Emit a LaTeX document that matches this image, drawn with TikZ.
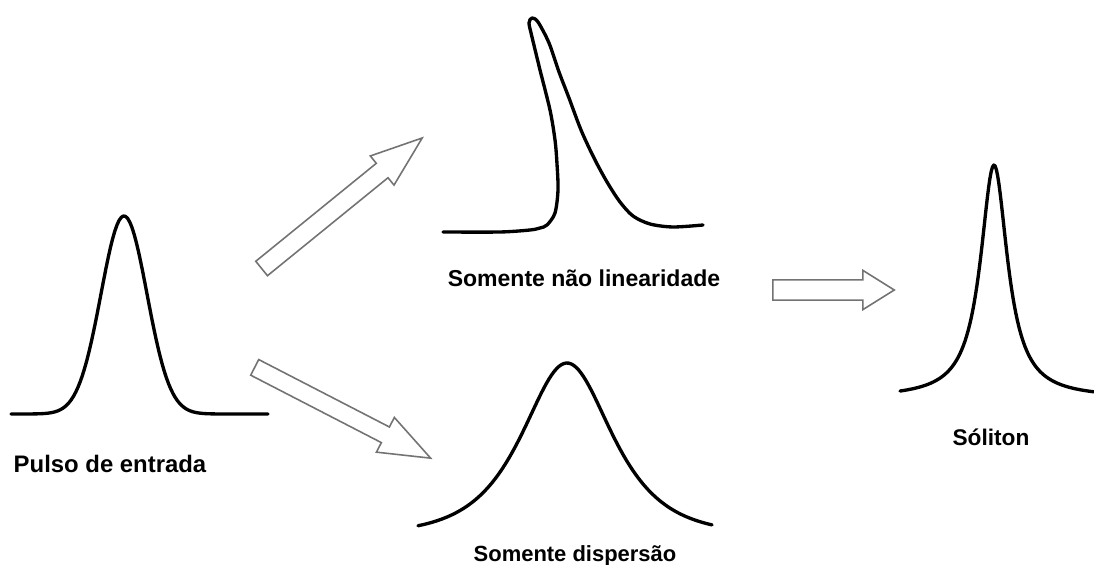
\documentclass[tikz,border=0pt]{standalone}
\usepackage{fontspec}
\setmainfont{Liberation Sans}
\usepackage{tikz}
\usetikzlibrary{shapes.arrows}

\tikzset{
  pulse/.style={line width=1.9pt, line cap=round, line join=round},
  blockarrow/.style={single arrow, draw=black!55, line width=0.9pt, fill=white, anchor=tail,
    inner xsep=0pt, inner ysep=0.17cm, single arrow head indent=0pt},
  caption/.style={anchor=base, font=\fontsize{#1}{16}\selectfont\bfseries},
  caption/.default=13.1
}

\begin{document}
\begin{tikzpicture}[x=0.02cm, y=0.02cm]
  \useasboundingbox (0,0) rectangle (1094,564);
  % input pulse
  \draw [pulse] plot [domain=11:268, samples=120] (\x, {150 + 198*exp(-0.5*((\x-124)/23)^2)});
  \node [caption=13.6] (input) at (110,91) {Pulso de entrada};
  % nonlinearity only
  \draw [pulse] plot [smooth, tension=0.5] coordinates {(443,332) (500,332) (530,334) (540,336)
    (547,339) (555,351) (558,374) (557,400) (555,424) (550,454) (540,494) (532,527) (529,541)
    (532,546) (538,542) (549,521) (559,492) (569,466) (581,434) (594,406) (607,382) (620,362)
    (633,348) (650,340) (673,337) (703,339)};
  \node [caption] (nonlin) at (584,277) {Somente não linearidade};
  % dispersion only
  \draw [pulse] plot [domain=418:712, samples=120] (\x, {30 + 171*2/(exp((\x-567)/40)+exp(-(\x-567)/40))});
  \node [caption=12.5] (disp) at (575,3) {Somente dispersão};
  % soliton
  \draw [pulse] plot [domain=900:1094, samples=150] (\x, {166 + 233/(1+((\x-994)/16.5)^2)});
  \node [caption=12.9] (soliton) at (991,118) {Sóliton};
  % arrows
  \node [blockarrow, minimum height=4.14cm, single arrow head extend=0.19cm,
    single arrow tip angle=40, rotate=39.1] (up) at (261,295) {};
  \node [blockarrow, inner ysep=0.16cm, minimum height=3.96cm, single arrow head extend=0.215cm,
    single arrow tip angle=42, rotate=-27.3] (down) at (254,197) {};
  \node [blockarrow, inner ysep=0.187cm, minimum height=2.43cm, single arrow head extend=0.19cm,
    single arrow tip angle=64] (right) at (772,274) {};
\end{tikzpicture}
\end{document}
